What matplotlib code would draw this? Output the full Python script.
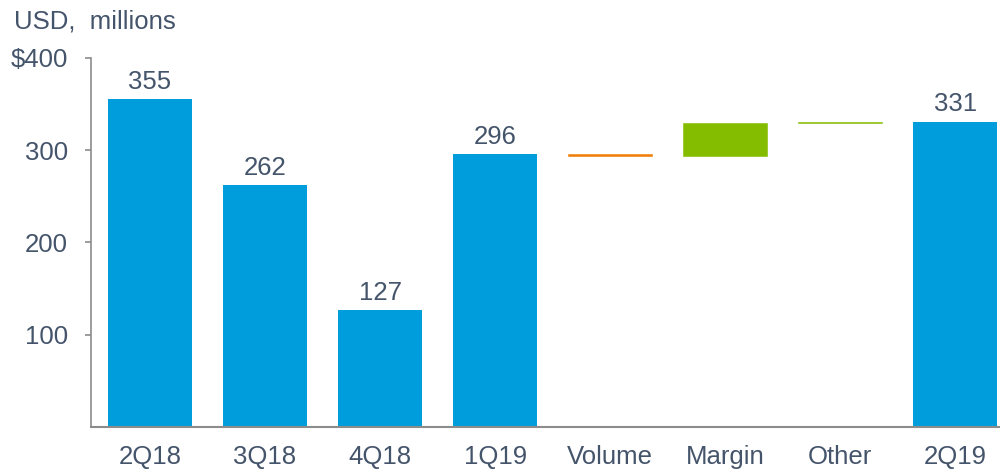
import matplotlib.pyplot as plt

categories = ['2Q18', '3Q18', '4Q18', '1Q19', 'Volume', 'Margin', 'Other', '2Q19']
totals = [355, 262, 127, 296, None, None, None, 331]
changes = [None, None, None, None, -2, 35, 2, None]
yticks = [100, 200, 300, 400]
ytick_labels = ['100', '200', '300', '$400']

blue = '#009DDC'
orange = '#F07F09'
green = '#84BD00'
text_color = '#44546A'
axis_color = '#8C8C8C'

plt.rcParams['font.family'] = ['Liberation Sans', 'DejaVu Sans']
fs = 18.5

fig = plt.figure(figsize=(10, 4.75), dpi=100)
ax = fig.add_axes([0.091, 0.101, 0.909, 0.777])

# 累计柱与变化柱
running = 0
for i, cat in enumerate(categories):
    if totals[i] is not None:
        ax.bar(i, totals[i], width=0.73, color=blue)
        ax.text(i, totals[i] + 11, str(totals[i]), ha='center', va='baseline',
                fontsize=fs, color=text_color)
        running = totals[i]
    else:
        d = changes[i]
        c = orange if d < 0 else green
        ax.bar(i, d, bottom=running, width=0.73, color=c,
               edgecolor=c, linewidth=0.4)
        running += d

ax.set_xlim(-0.513, 7.39)
ax.set_ylim(0, 400)
ax.set_xticks(range(len(categories)))
ax.set_xticklabels(categories, fontsize=fs, color=text_color)
ax.set_yticks(yticks)
ax.set_yticklabels(ytick_labels, fontsize=fs, color=text_color)
ax.tick_params(axis='x', length=0, pad=13)
ax.tick_params(axis='y', length=4.5, width=1.2, color=axis_color, pad=12)

for side in ['top', 'right']:
    ax.spines[side].set_visible(False)
ax.spines['left'].set_color(axis_color)
ax.spines['left'].set_linewidth(1.2)
ax.spines['bottom'].set_color(axis_color)
ax.spines['bottom'].set_linewidth(1.5)

fig.text(0.014, 0.939, 'USD,  millions', fontsize=fs, color=text_color,
         va='baseline', ha='left')

fig.savefig('out.png', dpi=100)
